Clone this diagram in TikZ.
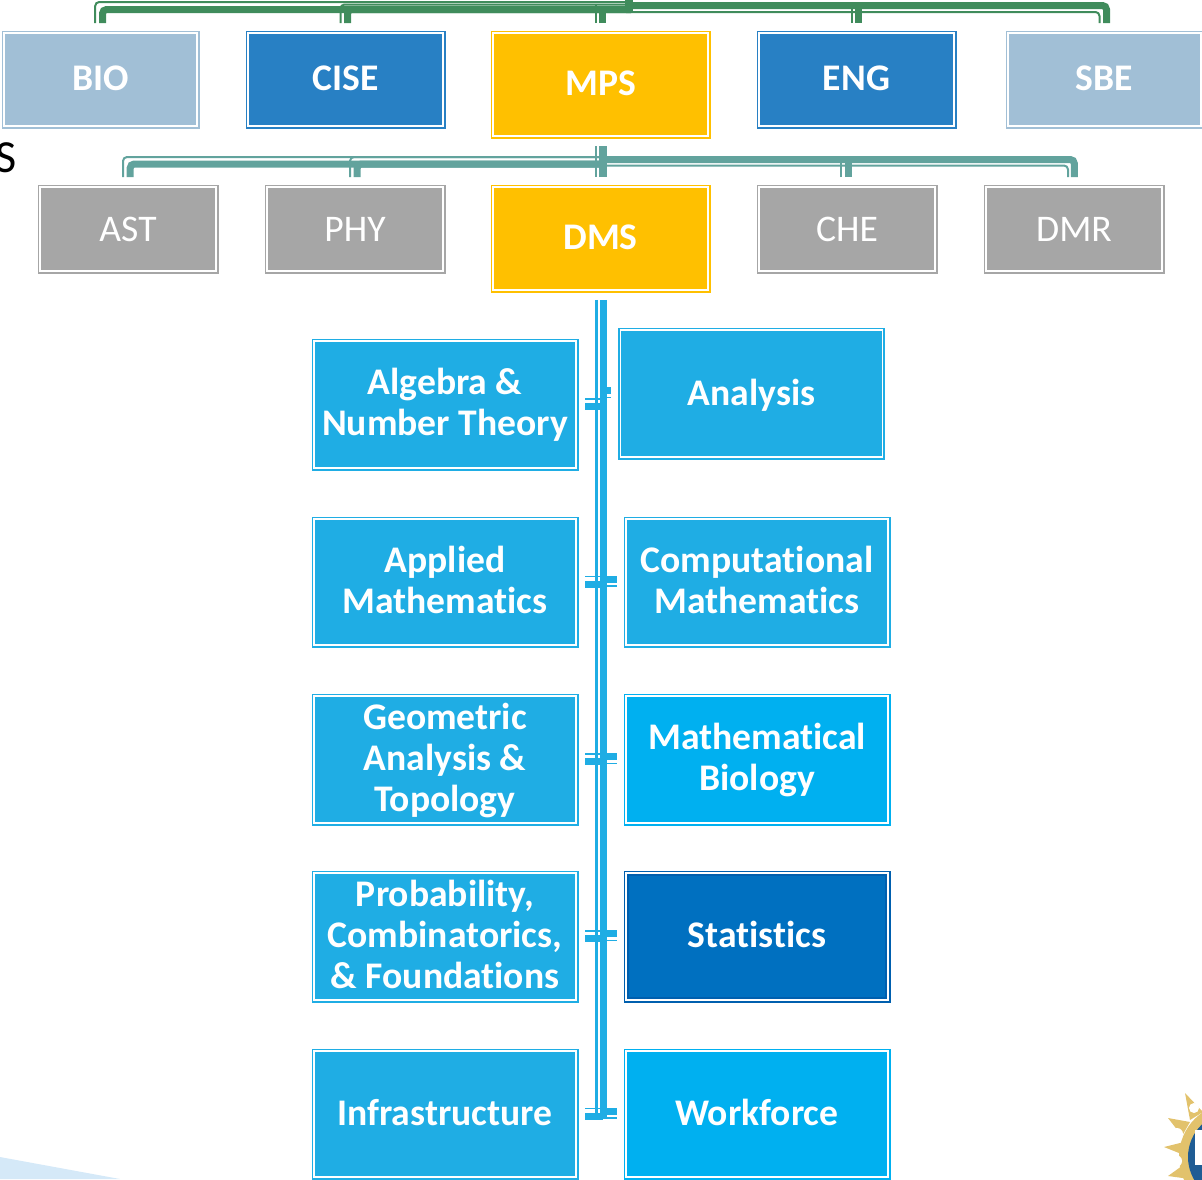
\documentclass[tikz,border=0pt]{standalone}
\usepackage{fontspec}
\setmainfont{Carlito}[Ligatures=NoCommon]
\definecolor{gLine}{HTML}{408C5C}
\definecolor{tLine}{HTML}{62A39D}
\definecolor{bLine}{HTML}{1FADE4}
\definecolor{cPale}{HTML}{A1BFD6}
\definecolor{cMid}{HTML}{2880C4}
\definecolor{cGold}{HTML}{FFC000}
\definecolor{cGray}{HTML}{A6A6A6}
\definecolor{cSky}{HTML}{1FADE4}
\definecolor{cBright}{HTML}{00B0F0}
\definecolor{cDeep}{HTML}{0070C0}
\definecolor{cDeepEdge}{HTML}{005FAE}
\definecolor{cWedge}{HTML}{D5E9F8}
\definecolor{cRay}{HTML}{E2C26C}
\definecolor{cSeal}{HTML}{1F5C94}
\newcommand{\lines}[2]{\raisebox{#1}[\height][\depth]{\begin{tabular}{@{}c@{}}#2\end{tabular}}}
\tikzset{
  box/.style 2 args={rectangle,minimum width=#1pt-4.2pt,minimum height=#2pt-4.2pt,inner sep=0pt,outer sep=0pt,
    line width=1.8pt,double=white,double distance=1.6pt,text=white,align=center},
  boldtxt/.style={font=\fontsize{37.6}{41}\selectfont\bfseries},
  regtxt/.style={font=\fontsize{37.6}{41}\selectfont},
  tone/.style={draw=#1,fill=#1},
  gthin/.style={draw=gLine,line width=2pt,rounded corners=4pt},
  gthick/.style={draw=gLine,line width=7pt,rounded corners=4pt},
  tthin/.style={draw=tLine,line width=2pt,rounded corners=4pt},
  tthick/.style={draw=tLine,line width=7pt,rounded corners=4pt},
  bthin/.style={draw=bLine,line width=2.4pt},
  bthick/.style={draw=bLine,line width=7pt},
}
\begin{document}
\begin{tikzpicture}[x=1pt,y=-1pt]
\useasboundingbox (0,0) rectangle (1202,1179);
% background shapes
\fill[cWedge] (0,1157) -- (120,1179) -- (0,1179) -- cycle;
\node[anchor=base east,font=\fontsize{46}{46}\selectfont,text=black,inner sep=0pt] (frag) at (17,172) {S};
% logo fragment
\fill[cRay] (1233,1157) circle (54);
\fill[cRay] (1185,1093) -- (1203,1112) -- (1190,1120) -- cycle;
\fill[cRay] (1168,1118) -- (1190,1122) -- (1182,1136) -- cycle;
\fill[cRay] (1164,1147) -- (1184,1142) -- (1184,1155) -- cycle;
\fill[cRay] (1168,1176) -- (1186,1163) -- (1190,1179) -- cycle;
\fill[white] (1177,1134) circle (6) (1176,1161) circle (6) (1194,1108) circle (5);
\fill[cSeal] (1233,1157) circle (45);
\fill[white] (1195,1130) rectangle (1202,1165);
% row 1
\node[box={197}{97},tone=cPale,boldtxt] (BIO) at (100.5,79.5) {\lines{-3pt}{BIO}};
\node[box={199}{97},tone=cMid,boldtxt] (CISE) at (345.5,79.5) {\lines{-3pt}{CISE}};
\node[box={219}{107},tone=cGold,boldtxt] (MPS) at (600.5,84.5) {\lines{-3pt}{MPS}};
\node[box={199}{97},tone=cMid,boldtxt] (ENG) at (856.5,79.5) {\lines{-3pt}{ENG}};
\node[box={197}{97},tone=cPale,boldtxt] (SBE) at (1104.5,79.5) {\lines{-3pt}{SBE}};
% row 2
\node[box={180}{88},tone=cGray,regtxt] (AST) at (128,229) {AST};
\node[box={180}{88},tone=cGray,regtxt] (PHY) at (355,229) {PHY};
\node[box={219}{107},tone=cGold,boldtxt] (DMS) at (600.5,238.5) {\lines{-3pt}{DMS}};
\node[box={180}{88},tone=cGray,regtxt] (CHE) at (847,229) {CHE};
\node[box={180}{88},tone=cGray,regtxt] (DMR) at (1074,229) {DMR};
% programs
\node[box={266}{131},tone=cSky,boldtxt] (ANT) at (445,404.5) {\lines{-2.5pt}{Algebra \&\\Number Theory}};
\node[box={266}{131},tone=cSky,boldtxt] (ANA) at (751.5,393.5) {\lines{-3.5pt}{Analysis}};
\node[box={266}{130},tone=cSky,boldtxt] (APM) at (445,582) {\lines{-3pt}{Applied\\Mathematics}};
\node[box={266}{130},tone=cSky,boldtxt] (CMP) at (757,582) {\lines{-3pt}{Computational\\Mathematics}};
\node[box={266}{131},tone=cSky,boldtxt] (GAT) at (445,759.5) {\lines{-3pt}{Geometric\\Analysis \&\\Topology}};
\node[box={266}{131},tone=cBright,boldtxt] (MBI) at (757,759.5) {\lines{-2pt}{Mathematical\\Biology}};
\node[box={266}{131},tone=cSky,boldtxt] (PCF) at (445,936.5) {\lines{-3pt}{Probability,\\Combinatorics,\\\& Foundations}};
\node[box={266}{131},draw=cDeepEdge,fill=cDeep,boldtxt] (STA) at (757,936.5) {\lines{-3pt}{Statistics}};
\node[box={266}{130},tone=cSky,boldtxt] (INF) at (445,1114) {\lines{-3pt}{Infrastructure}};
\node[box={266}{130},tone=cBright,boldtxt] (WRK) at (757,1114) {\lines{-3pt}{Workforce}};
% green connectors
\coordinate (gL1) at (631,2);
\coordinate (gL2) at (631,4.5);
\coordinate (gL3) at (631,9.5);
\coordinate (gR1) at (626,5.5);
\coordinate (gR2) at (626,12);
\draw[gthin] ([xshift=-5.3pt,yshift=10.1pt]BIO.north) |- (gL1);
\draw[gthick] ([xshift=2pt,yshift=10.1pt]BIO.north) |- (gL3);
\draw[gthin] ([xshift=-5pt,yshift=10.1pt]CISE.north) |- (gL2);
\draw[gthick] ([xshift=2pt,yshift=10.1pt]CISE.north) |- (gL3);
\draw[gthin] ([xshift=-4.5pt,yshift=10.1pt]MPS.north) -- ++(0,-18);
\draw[gthick] ([xshift=2pt,yshift=10.1pt]MPS.north) -- ++(0,-16);
\draw[gthin] ([xshift=-5pt,yshift=10.1pt]ENG.north) -- ++(0,-16);
\draw[gthick] ([xshift=1.5pt,yshift=10.1pt]ENG.north) -- ++(0,-18);
\draw[gthick] ([xshift=2pt,yshift=10.1pt]SBE.north) |- (gR1);
\draw[gthin] ([xshift=-5pt,yshift=10.1pt]SBE.north) |- (gR2);
\coordinate (gT) at (626,-1);
\coordinate (gTb) at (630,-1);
\draw[gLine,line width=1.8pt] (gT) -- ++(0,10);
\draw[gLine,line width=6pt] (gTb) -- ++(0,13);
% teal connectors
\coordinate (tL1) at (600,157);
\coordinate (tL2) at (600,164);
\coordinate (tR1) at (600,159.5);
\coordinate (tR2) at (600,165.5);
\draw[tthin] ([xshift=-5pt,yshift=10.1pt]AST.north) |- (tL1);
\draw[tthick] ([xshift=2.2pt,yshift=10.1pt]AST.north) |- (tL2);
\draw[tthin] ([xshift=-5pt,yshift=10.1pt]PHY.north) |- (tL1);
\draw[tthick] ([xshift=2.2pt,yshift=10.1pt]PHY.north) |- (tL2);
\draw[tthick] ([xshift=1.5pt,yshift=10.1pt]CHE.north) -- ++(0,-18);
\draw[tthin] ([xshift=-6pt,yshift=10.1pt]CHE.north) -- ++(0,-14);
\draw[tthick] ([xshift=0.3pt,yshift=10.1pt]DMR.north) |- (tR1);
\draw[tthin] ([xshift=-6pt,yshift=10.1pt]DMR.north) |- (tR2);
\draw[tthin,rounded corners=0pt] ([xshift=-4.2pt,yshift=-10.1pt]MPS.south) -- ([xshift=-4.2pt,yshift=10.1pt]DMS.north);
\draw[tthick,rounded corners=0pt,line width=8pt] ([xshift=2.5pt,yshift=-10.1pt]MPS.south) -- ([xshift=2.5pt,yshift=10.1pt]DMS.north);
% blue trunk
\draw[bthin] ([xshift=-4pt,yshift=-10pt]DMS.south) -- (596.5,1118);
\draw[bthick] ([xshift=2.7pt,yshift=-10pt]DMS.south) -- (603.2,1118);
% blue branches: left
\foreach \n/\yy in {ANT/404.5,APM/582,GAT/759.5,PCF/936.5,INF/1114}{
  \draw[bthin,line width=1.9pt] ([xshift=9.1pt,yshift=5.5pt]\n.east) -- (603,\yy-5.5);
  \draw[bthick] ([xshift=9.1pt,yshift=-2pt]\n.east) -- (603,\yy+2);
}
% blue branches: right
\foreach \n/\yy in {ANA/393.5,CMP/582,MBI/759.5,STA/936.5,WRK/1114}{
  \draw[bthick] ([xshift=-9.6pt,yshift=3pt]\n.west) -- (600,\yy-3);
  \draw[bthin,line width=1.9pt] ([xshift=-9.6pt,yshift=-4pt]\n.west) -- (600,\yy+4);
}
\end{tikzpicture}
\end{document}
